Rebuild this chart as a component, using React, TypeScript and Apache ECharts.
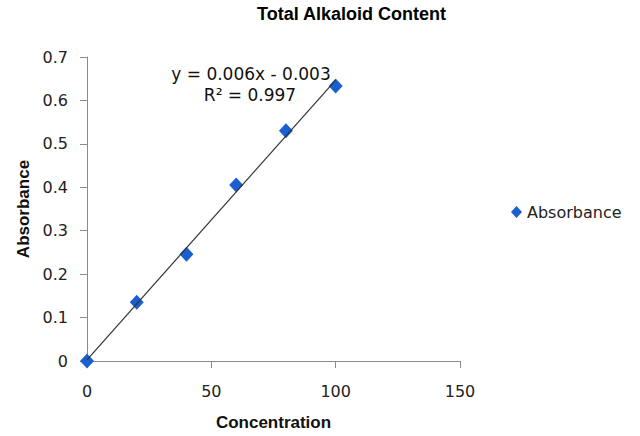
import React, { useEffect, useRef } from "react";
import * as echarts from "echarts";

const concentration = [0, 20, 40, 60, 80, 100];
const absorbance = [0, 0.135, 0.246, 0.405, 0.53, 0.633];
const xTicks = { min: 0, max: 150, interval: 50 };
const yTicks = { min: 0, max: 0.7, interval: 0.1 };
const titleText = "Total Alkaloid Content";
const equationText = "y = 0.006x - 0.003";
const r2Text = "R\u00b2 = 0.997";

function linearFit(xs: number[], ys: number[]) {
  const n = xs.length;
  const mx = xs.reduce((a, b) => a + b, 0) / n;
  const my = ys.reduce((a, b) => a + b, 0) / n;
  let sxy = 0;
  let sxx = 0;
  for (let i = 0; i < n; i++) {
    sxy += (xs[i] - mx) * (ys[i] - my);
    sxx += (xs[i] - mx) * (xs[i] - mx);
  }
  const m = sxy / sxx;
  return { m, b: my - m * mx };
}

export default function App() {
  const ref = useRef<HTMLDivElement>(null);
  useEffect(() => {
    if (!ref.current) return;
    const chart = echarts.init(ref.current, undefined, { renderer: "svg" });
    const fit = linearFit(concentration, absorbance);
    const x0 = concentration[0];
    const x1 = concentration[concentration.length - 1];
    const trend = [
      [x0, fit.m * x0 + fit.b],
      [x1, fit.m * x1 + fit.b],
    ];
    const axisColor = "#8a8a8a";
    chart.setOption({
      animation: false,
      backgroundColor: "#ffffff",
      title: {
        text: titleText,
        left: 257,
        top: 5,
        padding: 0,
        textStyle: {
          fontFamily: "Liberation Sans",
          fontWeight: "bold",
          fontSize: 18,
          color: "#000",
        },
      },
      grid: { left: 87, right: 180, top: 57, bottom: 75, containLabel: false },
      legend: {
        data: [{ name: "Absorbance", icon: "diamond", itemStyle: { color: "#1a5fd0", opacity: 1 } }],
        left: 506,
        top: 199,
        itemWidth: 11,
        itemHeight: 12,
        itemGap: 5,
        textStyle: { fontFamily: "DejaVu Sans", fontSize: 16, color: "#222" },
      },
      xAxis: {
        type: "value",
        min: xTicks.min,
        max: xTicks.max,
        interval: xTicks.interval,
        name: "Concentration",
        nameLocation: "middle",
        nameGap: 53,
        nameTextStyle: {
          fontFamily: "Liberation Sans",
          fontWeight: "bold",
          fontSize: 17,
          color: "#111",
        },
        axisLine: { show: true, lineStyle: { color: axisColor, width: 1 } },
        axisTick: { show: true, length: 7, lineStyle: { color: axisColor } },
        splitLine: { show: false },
        axisLabel: {
          margin: 22,
          fontFamily: "DejaVu Sans",
          fontSize: 16,
          color: "#222",
        },
      },
      yAxis: {
        type: "value",
        min: yTicks.min,
        max: yTicks.max,
        interval: yTicks.interval,
        name: "Absorbance",
        nameLocation: "middle",
        nameRotate: 90,
        nameGap: 54,
        nameTextStyle: {
          fontFamily: "Liberation Sans",
          fontWeight: "bold",
          fontSize: 17,
          color: "#111",
        },
        axisLine: { show: true, lineStyle: { color: axisColor, width: 1 } },
        axisTick: { show: true, length: 7, lineStyle: { color: axisColor } },
        splitLine: { show: false },
        axisLabel: {
          margin: 19,
          fontFamily: "DejaVu Sans",
          fontSize: 16,
          color: "#222",
        },
      },
      graphic: [
        {
          type: "text",
          x: 251,
          y: 74,
          style: {
            text: equationText,
            fontFamily: "DejaVu Sans",
            fontSize: 17,
            fill: "#111",
            textAlign: "center",
            textVerticalAlign: "middle",
          },
          z: 10,
        },
        {
          type: "text",
          x: 250,
          y: 95,
          style: {
            text: r2Text,
            fontFamily: "DejaVu Sans",
            fontSize: 17,
            fill: "#111",
            textAlign: "center",
            textVerticalAlign: "middle",
          },
          z: 10,
        },
      ],
      series: [
        {
          name: "Absorbance",
          type: "scatter",
          symbol: "diamond",
          symbolSize: [14, 15],
          itemStyle: { color: "#1a5fd0", opacity: 1 },
          data: concentration.map((x, i) => [x, absorbance[i]]),
          z: 2,
        },
        {
          name: "Linear (Absorbance)",
          type: "line",
          data: trend,
          showSymbol: false,
          symbol: "none",
          lineStyle: { color: "#333", width: 1.2 },
          z: 3,
          silent: true,
        },
      ],
    });
    return () => chart.dispose();
  }, []);
  return (
    <div
      ref={ref}
      style={{ position: "fixed", left: 0, top: 0, width: 640, height: 436 }}
    />
  );
}
